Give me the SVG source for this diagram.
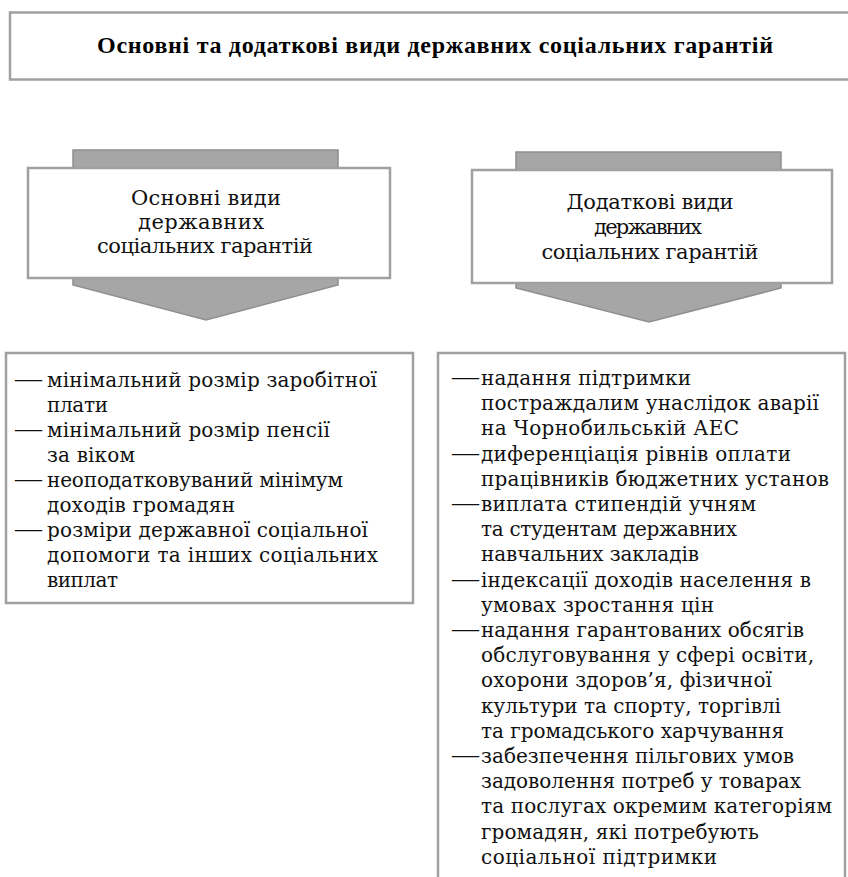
<svg xmlns="http://www.w3.org/2000/svg" width="848" height="877" viewBox="0 0 848 877">
<style>
.box{fill:#ffffff;stroke:#a0a0a0;stroke-width:2.5}
.arr{fill:#a6a6a6;stroke:#8f8f8f;stroke-width:1.5}
.hdr{font-family:"Liberation Serif",serif;font-weight:bold;font-size:24px;fill:#000}
.ttl{font-family:"DejaVu Serif",serif;font-size:21px;fill:#111;text-anchor:middle}
.lst{font-family:"DejaVu Serif",serif;font-size:20px;fill:#111}
.dash{font-family:"Liberation Serif",serif;font-size:27px;fill:#111}
</style>
<rect width="848" height="877" fill="#ffffff"/>
<g id="header">
<rect class="box" x="10" y="12.5" width="850" height="67"/>
<text class="hdr" x="97" y="53" textLength="676" lengthAdjust="spacing">Основні та додаткові види державних соціальних гарантій</text>
</g>
<g id="connectors">
<polygon class="arr" points="73,150 338,150 338,285 206,320 73,285"/>
<polygon class="arr" points="516,152 781,152 781,288 649,322 516,288"/>
</g>
<g id="main-types">
<rect class="box" x="28" y="168" width="362" height="110"/>
<text class="ttl" x="206" y="205" textLength="150" lengthAdjust="spacing">Основні види</text>
<text class="ttl" x="201" y="229" textLength="126" lengthAdjust="spacing">державних</text>
<text class="ttl" x="205" y="253" textLength="216" lengthAdjust="spacing">соціальних гарантій</text>
</g>
<g id="additional-types">
<rect class="box" x="472" y="170" width="360" height="113"/>
<text class="ttl" x="650" y="209" textLength="167" lengthAdjust="spacing">Додаткові види</text>
<text class="ttl" x="648" y="234" textLength="108" lengthAdjust="spacing">державних</text>
<text class="ttl" x="650" y="259" textLength="217" lengthAdjust="spacing">соціальних гарантій</text>
</g>
<g id="main-list">
<rect class="box" x="6" y="353" width="407" height="250"/>
<text class="lst" y="387"><tspan class="dash" x="15">—</tspan><tspan x="47" textLength="330" lengthAdjust="spacing">мінімальний розмір заробітної</tspan></text>
<text class="lst" x="47" y="412" textLength="61" lengthAdjust="spacing">плати</text>
<text class="lst" y="437"><tspan class="dash" x="15">—</tspan><tspan x="47" textLength="283" lengthAdjust="spacing">мінімальний розмір пенсії</tspan></text>
<text class="lst" x="47" y="462" textLength="88" lengthAdjust="spacing">за віком</text>
<text class="lst" y="487"><tspan class="dash" x="15">—</tspan><tspan x="47" textLength="296" lengthAdjust="spacing">неоподатковуваний мінімум</tspan></text>
<text class="lst" x="47" y="512" textLength="188" lengthAdjust="spacing">доходів громадян</text>
<text class="lst" y="537"><tspan class="dash" x="15">—</tspan><tspan x="47" textLength="321" lengthAdjust="spacing">розміри державної соціальної</tspan></text>
<text class="lst" x="47" y="562" textLength="331" lengthAdjust="spacing">допомоги та інших соціальних</text>
<text class="lst" x="47" y="587" textLength="71" lengthAdjust="spacing">виплат</text>
</g>
<g id="additional-list">
<rect class="box" x="438" y="353" width="407" height="540"/>
<text class="lst" y="385"><tspan class="dash" x="452">—</tspan><tspan x="481" textLength="210" lengthAdjust="spacing">надання підтримки</tspan></text>
<text class="lst" x="481" y="410.2" textLength="338" lengthAdjust="spacing">постраждалим унаслідок аварії</text>
<text class="lst" x="481" y="435.4" textLength="258" lengthAdjust="spacing">на Чорнобильській АЕС</text>
<text class="lst" y="460.6"><tspan class="dash" x="452">—</tspan><tspan x="481" textLength="310" lengthAdjust="spacing">диференціація рівнів оплати</tspan></text>
<text class="lst" x="481" y="485.8" textLength="348" lengthAdjust="spacing">працівників бюджетних установ</text>
<text class="lst" y="511"><tspan class="dash" x="452">—</tspan><tspan x="481" textLength="275" lengthAdjust="spacing">виплата стипендій учням</tspan></text>
<text class="lst" x="481" y="536.2" textLength="256" lengthAdjust="spacing">та студентам державних</text>
<text class="lst" x="481" y="561.4" textLength="218" lengthAdjust="spacing">навчальних закладів</text>
<text class="lst" y="586.6"><tspan class="dash" x="452">—</tspan><tspan x="481" textLength="330" lengthAdjust="spacing">індексації доходів населення в</tspan></text>
<text class="lst" x="481" y="611.8" textLength="233" lengthAdjust="spacing">умовах зростання цін</text>
<text class="lst" y="637"><tspan class="dash" x="452">—</tspan><tspan x="481" textLength="323" lengthAdjust="spacing">надання гарантованих обсягів</tspan></text>
<text class="lst" x="481" y="662.2" textLength="333" lengthAdjust="spacing">обслуговування у сфері освіти,</text>
<text class="lst" x="481" y="687.4" textLength="291" lengthAdjust="spacing">охорони здоров’я, фізичної</text>
<text class="lst" x="481" y="712.6" textLength="300" lengthAdjust="spacing">культури та спорту, торгівлі</text>
<text class="lst" x="481" y="737.8" textLength="303" lengthAdjust="spacing">та громадського харчування</text>
<text class="lst" y="763"><tspan class="dash" x="452">—</tspan><tspan x="481" textLength="313" lengthAdjust="spacing">забезпечення пільгових умов</tspan></text>
<text class="lst" x="481" y="788.2" textLength="320" lengthAdjust="spacing">задоволення потреб у товарах</text>
<text class="lst" x="481" y="813.4" textLength="351" lengthAdjust="spacing">та послугах окремим категоріям</text>
<text class="lst" x="481" y="838.6" textLength="278" lengthAdjust="spacing">громадян, які потребують</text>
<text class="lst" x="481" y="863.8" textLength="236" lengthAdjust="spacing">соціальної підтримки</text>
</g>
</svg>
